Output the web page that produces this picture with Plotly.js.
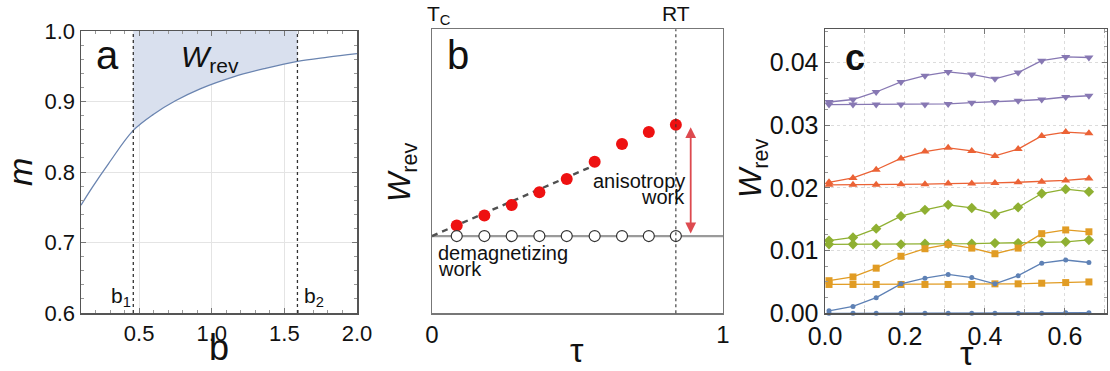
<!DOCTYPE html>
<html>
<head>
<meta charset="utf-8">
<script src="https://cdn.plot.ly/plotly-3.0.1.min.js"></script>
<style>html,body{margin:0;padding:0;background:#fff;}#chart{width:1110px;height:371px;}</style>
</head>
<body>
<div id="chart"></div>
<script>
// ---------- Panel a data ----------
const aB = [0.1, 0.18, 0.29, 0.46, 0.6, 0.75, 0.92, 1.15, 1.37, 1.59, 1.8, 2.0];
const aM = [0.753, 0.779, 0.812, 0.859, 0.882, 0.901, 0.918, 0.935, 0.947, 0.957, 0.963, 0.968];
const bLimits = [0.46, 1.59];           // b1, b2
const aXTicks = [0.5, 1.0, 1.5, 2.0];
const aXTickText = ['0.5', '1.0', '1.5', '2.0'];
const aYTicks = [0.6, 0.7, 0.8, 0.9, 1.0];
const aYTickText = ['0.6', '0.7', '0.8', '0.9', '1.0'];

// ---------- Panel b data ----------
const tauB = [0.085, 0.18, 0.274, 0.369, 0.463, 0.559, 0.653, 0.745, 0.838];
const wRed = [0.309, 0.344, 0.381, 0.426, 0.473, 0.534, 0.596, 0.638, 0.664];
const wDemag = [0.272, 0.272, 0.272, 0.272, 0.272, 0.272, 0.272, 0.272, 0.272];
const demagLineTau = [0, 1];
const demagLineW = [0.272, 0.272];
const fitTau = [0, 0.583];
const fitW = [0.272, 0.532];
const tauRT = 0.838;
const arrowTau = 0.889;
const arrowW = [0.276, 0.655];
const bXTicks = [0, 1];
const bXTickText = ['0', '1'];

// ---------- Panel c data ----------
const tauC = [0.01, 0.07, 0.128, 0.19, 0.25, 0.308, 0.367, 0.425, 0.483, 0.542, 0.602, 0.66];
const purpleHi = [0.0337, 0.0341, 0.0353, 0.0369, 0.0379, 0.0385, 0.0381, 0.0374, 0.0384, 0.0403, 0.0409, 0.0408];
const purpleLo = [0.0333, 0.0333, 0.0333, 0.0333, 0.0333, 0.0334, 0.0336, 0.0337, 0.0339, 0.0341, 0.0345, 0.0347];
const redHi = [0.0209, 0.0216, 0.0229, 0.0247, 0.0258, 0.0264, 0.0259, 0.0251, 0.0262, 0.0283, 0.0289, 0.0287];
const redLo = [0.0205, 0.0205, 0.0205, 0.0206, 0.0206, 0.0207, 0.0207, 0.0208, 0.0209, 0.0210, 0.0212, 0.0215];
const greenHi = [0.0116, 0.0121, 0.0135, 0.0155, 0.0165, 0.0173, 0.0168, 0.0158, 0.0169, 0.0191, 0.0198, 0.0194];
const greenLo = [0.0110, 0.0110, 0.0110, 0.0110, 0.0111, 0.0111, 0.0111, 0.0112, 0.0112, 0.0113, 0.0114, 0.0117];
const orangeHi = [0.0052, 0.0058, 0.0072, 0.0091, 0.0103, 0.0110, 0.0104, 0.0095, 0.0104, 0.0127, 0.0133, 0.0130];
const orangeLo = [0.0046, 0.0046, 0.0046, 0.0046, 0.0046, 0.0046, 0.0046, 0.0047, 0.0047, 0.0048, 0.0049, 0.0050];
const blueHi = [0.0004, 0.0011, 0.0025, 0.0047, 0.0056, 0.0062, 0.0057, 0.0047, 0.0060, 0.0080, 0.0085, 0.0081];
const blueLo = [0.0000, 0.0000, 0.0000, 0.0000, 0.0000, 0.0000, 0.0000, 0.0000, 0.0000, 0.0000, 0.0001, 0.0001];
const cXTicks = [0, 0.2, 0.4, 0.6];
const cXTickText = ['0.0', '0.2', '0.4', '0.6'];
const cYTicks = [0, 0.01, 0.02, 0.03, 0.04];
const cYTickText = ['0.00', '0.01', '0.02', '0.03', '0.04'];

const FONT = 'Liberation Sans, Arial, sans-serif';
const COL = {blue:'#5E81B5', orange:'#E19C24', green:'#8FB032', red:'#EB6235', purple:'#8778B3'};

// fill segment between b1 and b2
const segB = [], segM = [];
aB.forEach((b, i) => { if (b >= bLimits[0] - 1e-9 && b <= bLimits[1] + 1e-9) { segB.push(b); segM.push(aM[i]); } });

const traces = [
  // panel a
  {x: bLimits, y: [aYTicks[aYTicks.length-1], aYTicks[aYTicks.length-1]], xaxis:'x', yaxis:'y', mode:'lines',
   line:{width:0, color:'rgba(0,0,0,0)'}, hoverinfo:'skip', showlegend:false},
  {x: segB, y: segM, xaxis:'x', yaxis:'y', mode:'lines', fill:'tonexty', fillcolor:'#d9e0ee',
   line:{width:0, shape:'spline', color:'rgba(0,0,0,0)'}, showlegend:false},
  {x: aB, y: aM, xaxis:'x', yaxis:'y', mode:'lines', line:{color:'#6a84b0', width:1.3, shape:'spline'}, showlegend:false},
  // panel b
  {x: demagLineTau, y: demagLineW, xaxis:'x2', yaxis:'y2', mode:'lines', line:{color:'#9a9a9a', width:2.2}, showlegend:false},
  {x: fitTau, y: fitW, xaxis:'x2', yaxis:'y2', mode:'lines', line:{color:'#505050', width:2.4, dash:'6px,5px'}, showlegend:false},
  {x: tauB, y: wRed, xaxis:'x2', yaxis:'y2', mode:'markers', marker:{color:'#ee1111', size:12}, showlegend:false},
  {x: tauB, y: wDemag, xaxis:'x2', yaxis:'y2', mode:'markers', marker:{color:'#ffffff', size:11, line:{color:'#333', width:1.2}}, showlegend:false},
];

// panel c traces
const cSeries = [
  [purpleHi, COL.purple, 'triangle-down', 8],
  [purpleLo, COL.purple, 'triangle-down', 8],
  [redHi, COL.red, 'triangle-up', 8],
  [redLo, COL.red, 'triangle-up', 8],
  [greenHi, COL.green, 'diamond', 8],
  [greenLo, COL.green, 'diamond', 8],
  [orangeHi, COL.orange, 'square', 7],
  [orangeLo, COL.orange, 'square', 7],
  [blueHi, COL.blue, 'circle', 5],
  [blueLo, COL.blue, 'circle', 5],
];
cSeries.forEach(([ys, c, sym, sz]) => {
  traces.push({x: tauC, y: ys, xaxis:'x3', yaxis:'y3', mode:'lines+markers', cliponaxis:false,
    line:{color:c, width:1.3}, marker:{color:c, symbol:sym, size:sz}, showlegend:false});
});

const W = 1110, H = 371;
const px = v => v / W, py = v => 1 - v / H;

const frameCol = '#555';

function ann(x, y, text, size, opts) {
  return Object.assign({xref:'paper', yref:'paper', x:px(x), y:py(y), xanchor:'center', yanchor:'middle',
    text:text, showarrow:false, font:{family:FONT, size:size, color:'#111'}}, opts || {});
}

const layout = {
  width: W, height: H,
  margin: {l:0, r:0, t:0, b:0},
  paper_bgcolor:'#fff', plot_bgcolor:'#fff',
  showlegend:false,
  font: {family: FONT, color:'#111'},
  xaxis: {domain:[px(81), px(357)], range:[0.1, 2.0], tickvals:aXTicks, ticktext:aXTickText, tickfont:{family:FONT, size:22, color:'#111'},
    showgrid:true, gridcolor:'#e4e4e4', gridwidth:1, zeroline:false, showline:true, linecolor:frameCol, linewidth:1.5,
    mirror:'allticks', ticks:'inside', ticklen:5, tickcolor:'#777',
    minor:{dtick:0.1, ticks:'inside', ticklen:3, tickcolor:'#999', showgrid:false}},
  yaxis: {domain:[py(313), py(31)], range:[0.6, 1.0], tickvals:aYTicks, ticktext:aYTickText, tickfont:{family:FONT, size:22, color:'#111'},
    showgrid:true, gridcolor:'#e4e4e4', gridwidth:1, zeroline:false, showline:true, linecolor:frameCol, linewidth:1.5,
    mirror:'allticks', ticks:'inside', ticklen:5, tickcolor:'#777',
    minor:{dtick:0.02, ticks:'inside', ticklen:3, tickcolor:'#999', showgrid:false}},
  xaxis2: {domain:[px(432), px(723)], range:[0, 1], tickvals:bXTicks, ticktext:bXTickText, tickfont:{family:FONT, size:24, color:'#111'},
    showgrid:false, zeroline:false, showline:true, linecolor:'#777', linewidth:1.3, mirror:true, ticks:'', anchor:'y2'},
  yaxis2: {domain:[py(313.3), py(29.3)], range:[0, 1], showticklabels:false, showgrid:false, zeroline:false,
    showline:true, linecolor:'#777', linewidth:1.3, mirror:true, ticks:'', anchor:'x2'},
  xaxis3: {domain:[px(825), px(1106.5)], range:[0, 0.704], tickvals:cXTicks, ticktext:cXTickText, tickfont:{family:FONT, size:25, color:'#111'},
    showgrid:true, gridcolor:'#dcdcdc', griddash:'dot', gridwidth:1, zeroline:false, showline:true, linecolor:frameCol, linewidth:1.5,
    mirror:'allticks', ticks:'inside', ticklen:5, tickcolor:'#777', anchor:'y3',
    minor:{dtick:0.1, ticks:'inside', ticklen:4, tickcolor:'#999', showgrid:true, gridcolor:'#dcdcdc', griddash:'dot', gridwidth:1}},
  yaxis3: {domain:[py(313.3), py(29.3)], range:[0, 0.0453], tickvals:cYTicks, ticktext:cYTickText, tickfont:{family:FONT, size:25, color:'#111'},
    showgrid:true, gridcolor:'#dcdcdc', griddash:'dot', gridwidth:1, zeroline:false, showline:true, linecolor:frameCol, linewidth:1.5,
    mirror:'allticks', ticks:'inside', ticklen:5, tickcolor:'#777', anchor:'x3',
    minor:{dtick:0.0025, ticks:'inside', ticklen:3, tickcolor:'#999', showgrid:false}},
  shapes: [
    {type:'line', xref:'x', yref:'y domain', x0:bLimits[0], x1:bLimits[0], y0:0, y1:1, line:{color:'#333', width:1.3, dash:'dot'}},
    {type:'line', xref:'x', yref:'y domain', x0:bLimits[1], x1:bLimits[1], y0:0, y1:1, line:{color:'#333', width:1.3, dash:'dot'}},
    {type:'line', xref:'x2', yref:'y2 domain', x0:tauRT, x1:tauRT, y0:0, y1:1, line:{color:'#333', width:1.1, dash:'dot'}},
  ],
  annotations: [
    // panel a
    ann(107, 55, 'a', 40),
    ann(179, 58, '<i>W</i><sub>rev</sub>', 30, {xanchor:'left'}),
    ann(133, 297, 'b<sub>1</sub>', 21, {xanchor:'right'}),
    ann(302, 297, 'b<sub>2</sub>', 21, {xanchor:'left'}),
    ann(20, 172, '<i>m</i>', 34, {textangle:-90}),
    ann(219, 347, 'b', 36),
    // panel b
    ann(458, 55, 'b', 40),
    ann(425, 15, 'T<sub>C</sub>', 21, {xanchor:'left'}),
    ann(676, 13, 'RT', 21),
    ann(402, 172, '<i>W</i><sub>rev</sub>', 31, {textangle:-90}),
    ann(577, 350, 'τ', 34),
    ann(687, 181, 'anisotropy', 20, {xanchor:'right'}),
    ann(687, 197, 'work', 20, {xanchor:'right'}),
    ann(436, 253, 'demagnetizing', 20, {xanchor:'left'}),
    ann(436, 269, 'work', 20, {xanchor:'left'}),
    {xref:'x2', yref:'y2', axref:'x2', ayref:'y2', x:arrowTau, y:arrowW[1], ax:arrowTau, ay:arrowW[0], text:'', showarrow:true,
     arrowhead:2, startarrowhead:2, arrowside:'end+start', arrowsize:1.2, arrowwidth:1.8, arrowcolor:'#dd4a4f', standoff:0, startstandoff:0},
    // panel c
    ann(855, 57, '<b>c</b>', 36),
    ann(753, 168, '<i>W</i><sub>rev</sub>', 31, {textangle:-90}),
    ann(967, 353, 'τ', 34),
  ],
};

Plotly.newPlot('chart', traces, layout, {staticPlot:true, displayModeBar:false});
</script>
</body>
</html>
